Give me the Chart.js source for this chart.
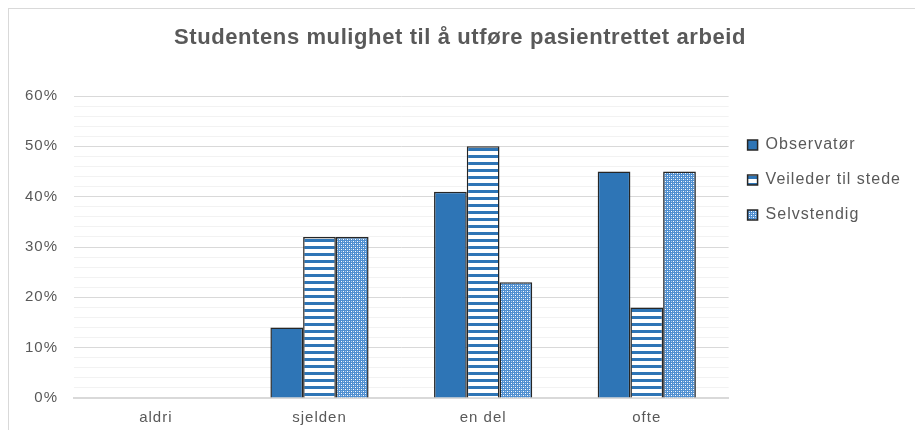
<!DOCTYPE html>
<html><head><meta charset="utf-8">
<script src="https://cdn.jsdelivr.net/npm/chart.js@4"></script>
<style>
html,body{margin:0;padding:0;background:#fff;overflow:hidden;width:915px;height:430px}
#frame{position:absolute;left:8px;top:8px;width:916px;height:440px;border:1px solid #d9d9d9;box-sizing:border-box;background:#fff}
#wrap{position:absolute;left:8px;top:8px;width:916px;height:430px}
</style></head><body>
<div id="frame"></div>
<div id="wrap"><canvas id="c" width="916" height="430" style="width:916px;height:430px"></canvas></div>
<script>
const categories = ['aldri', 'sjelden', 'en del', 'ofte'];
const seriesNames = ['Observatør', 'Veileder til stede', 'Selvstendig'];
const observator = [0, 14, 41, 45];
const veileder = [0, 32, 50, 18];
const selvstendig = [0, 32, 23, 45];
const titleText = 'Studentens mulighet til å utføre pasientrettet arbeid';

const FONT = '"Liberation Sans", Arial, sans-serif';
const TEXT = '#595959';

function stripePattern() {
  const c = document.createElement('canvas');
  c.width = 8; c.height = 7;
  const x = c.getContext('2d');
  x.fillStyle = '#ffffff'; x.fillRect(0, 0, 8, 7);
  x.fillStyle = '#2e75b6'; x.fillRect(0, 0, 8, 3);
  return x.createPattern(c, 'repeat');
}
function dotPattern() {
  const c = document.createElement('canvas');
  c.width = 4; c.height = 4;
  const x = c.getContext('2d');
  x.fillStyle = '#4f8fd0'; x.fillRect(0, 0, 4, 4);
  x.fillStyle = '#ffffff';
  x.fillRect(1, 1, 1, 1); x.fillRect(3, 3, 1, 1);
  x.fillStyle = '#a8c9ec';
  x.fillRect(1, 3, 1, 1); x.fillRect(3, 1, 1, 1);
  return x.createPattern(c, 'repeat');
}

const spacingPlugin = {
  id: 'spacing',
  afterInit(chart) { chart.ctx.letterSpacing = '1px'; },
  beforeUpdate(chart) { chart.ctx.letterSpacing = '1px'; },
  beforeDraw(chart) { chart.ctx.letterSpacing = '1px'; }
};

const ctx = document.getElementById('c').getContext('2d');
const chart = new Chart(ctx, {
  type: 'bar',
  plugins: [spacingPlugin],
  data: {
    labels: categories,
    datasets: [
      { label: seriesNames[0], data: observator, backgroundColor: '#2e75b6', borderColor: '#262626', borderWidth: 1.5 },
      { label: seriesNames[1], data: veileder, backgroundColor: stripePattern(), borderColor: '#262626', borderWidth: 1.5 },
      { label: seriesNames[2], data: selvstendig, backgroundColor: dotPattern(), borderColor: '#262626', borderWidth: 1.5 }
    ]
  },
  options: {
    responsive: false,
    animation: false,
    events: [],
    layout: { padding: { left: 1, right: 13, top: 0, bottom: 0 } },
    datasets: { bar: { categoryPercentage: 0.6, barPercentage: 1.0 } },
    plugins: {
      title: {
        display: true, text: titleText, color: TEXT,
        font: { family: FONT, size: 22, weight: 'bold', lineHeight: 1.2 },
        padding: { top: 16.8, bottom: 44.8 }
      },
      legend: {
        position: 'right', align: 'start',
        title: { display: true, text: ' ', font: { size: 10, lineHeight: 1 }, padding: { top: 100, bottom: 0 } },
        labels: { boxWidth: 10, boxHeight: 10, padding: 19, color: TEXT, font: { family: FONT, size: 16 } }
      },
      tooltip: { enabled: false }
    },
    scales: {
      x: {
        grid: { display: false, drawTicks: false },
        border: { display: true, color: '#d9d9d9', width: 2 },
        ticks: { color: TEXT, font: { family: FONT, size: 15 }, padding: 11 }
      },
      y: {
        min: 0, max: 60,
        border: { display: false },
        grid: {
          drawTicks: false,
          color: (c) => (c.tick && c.tick.value % 10 === 0) ? '#d9d9d9' : '#f2f2f2',
          lineWidth: 1
        },
        ticks: {
          stepSize: 2, autoSkip: false, padding: 16, color: TEXT,
          font: { family: FONT, size: 15 },
          callback: (v) => v % 10 === 0 ? v + '%' : ''
        }
      }
    }
  }
});
const tb = chart.titleBlock;
if (tb) {
  const origDraw = tb.draw.bind(tb);
  tb.draw = function () {
    const c = chart.ctx;
    const prev = c.letterSpacing;
    c.letterSpacing = '0.6px';
    origDraw();
    c.letterSpacing = prev;
  };
  chart.draw();
}
</script>
</body></html>
